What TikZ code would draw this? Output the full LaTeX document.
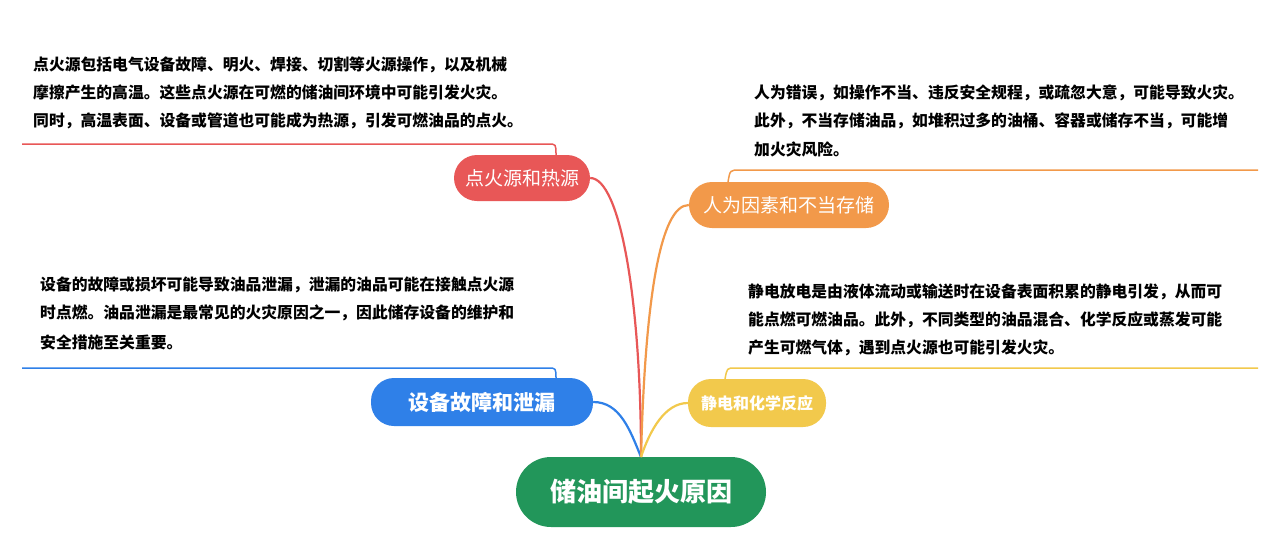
\documentclass[tikz,border=0pt]{standalone}
\usepackage{fontspec}
\setmainfont{Noto Sans CJK SC}
\definecolor{cg}{HTML}{22965A}
\definecolor{cr}{HTML}{E85757}
\definecolor{cb}{HTML}{2F80E8}
\definecolor{co}{HTML}{F2994A}
\definecolor{cy}{HTML}{F2C94C}
\begin{document}
\begin{tikzpicture}[x=1pt,y=-1pt,
  branch/.style={rounded corners=23pt,text=white,font=\fontsize{19}{19}\selectfont,inner sep=0pt,align=center},
  desc/.style={anchor=west,font=\bfseries\fontsize{15.8}{15.8}\selectfont,inner sep=0pt},
  conn/.style={line width=2.2pt}]
\useasboundingbox[fill=white] (0,0) rectangle (1281,536);
\node[fill=cg,rounded corners=35pt,minimum width=250pt,minimum height=70pt,text=white,font=\bfseries\fontsize{26}{26}\selectfont] (c) at (641,492) {储油间起火原因};
\node[branch,fill=cr,minimum width=136pt,minimum height=46pt] (r) at (522,178) {点火源和热源};
\node[branch,fill=cb,minimum width=222pt,minimum height=48pt,font=\bfseries\fontsize{21}{21}\selectfont] (b) at (482,402) {设备故障和泄漏};
\node[branch,fill=co,minimum width=200pt,minimum height=46pt] (o) at (789,205) {人为因素和不当存储};
\node[branch,fill=cy,minimum width=138pt,minimum height=48pt,font=\bfseries\fontsize{16}{16}\selectfont] (y) at (757,403) {静电和化学反应};
\coordinate (ct) at (641,457);
\draw[conn,cr] (ct) .. controls (641,300) and (620,178) .. (r.east);
\draw[conn,cb] (ct) .. controls (630,430) and (620,402) .. (b.east);
\draw[conn,co] (ct) .. controls (645,300) and (660,205) .. (o.west);
\draw[conn,cy] (ct) .. controls (650,430) and (665,403) .. (y.west);
\coordinate (r1) at (22,144); \coordinate (r2) at (548,144);
\draw[cr,line width=1.5pt] (r1) -- (r2) .. controls (556,144) .. (556,155);
\coordinate (b1) at (22,368); \coordinate (b2) at (548,368);
\draw[cb,line width=1.5pt] (b1) -- (b2) .. controls (556,368) .. (556,379);
\coordinate (o1) at (1258,170); \coordinate (o2) at (740,170);
\draw[co,line width=1.5pt] (o1) -- (o2) .. controls (730,170) .. (728,182);
\coordinate (y1) at (1258,368); \coordinate (y2) at (735,368);
\draw[cy,line width=1.5pt] (y1) -- (y2) .. controls (727,368) .. (725,379);
\node[desc] (t1) at (33,65) {点火源包括电气设备故障、明火、焊接、切割等火源操作，以及机械};
\node[desc] (t2) at (33,93) {摩擦产生的高温。这些点火源在可燃的储油间环境中可能引发火灾。};
\node[desc] (t3) at (33,121) {同时，高温表面、设备或管道也可能成为热源，引发可燃油品的点火。};
\node[desc] (t4) at (754,93) {人为错误，如操作不当、违反安全规程，或疏忽大意，可能导致火灾。};
\node[desc] (t5) at (754,121) {此外，不当存储油品，如堆积过多的油桶、容器或储存不当，可能增};
\node[desc] (t6) at (754,149) {加火灾风险。};
\node[desc] (t7) at (40,285) {设备的故障或损坏可能导致油品泄漏，泄漏的油品可能在接触点火源};
\node[desc] (t8) at (40,313) {时点燃。油品泄漏是最常见的火灾原因之一，因此储存设备的维护和};
\node[desc] (t9) at (40,342) {安全措施至关重要。};
\node[desc] (t10) at (748,292) {静电放电是由液体流动或输送时在设备表面积累的静电引发，从而可};
\node[desc] (t11) at (748,320) {能点燃可燃油品。此外，不同类型的油品混合、化学反应或蒸发可能};
\node[desc] (t12) at (748,348) {产生可燃气体，遇到点火源也可能引发火灾。};
\end{tikzpicture}
\end{document}
